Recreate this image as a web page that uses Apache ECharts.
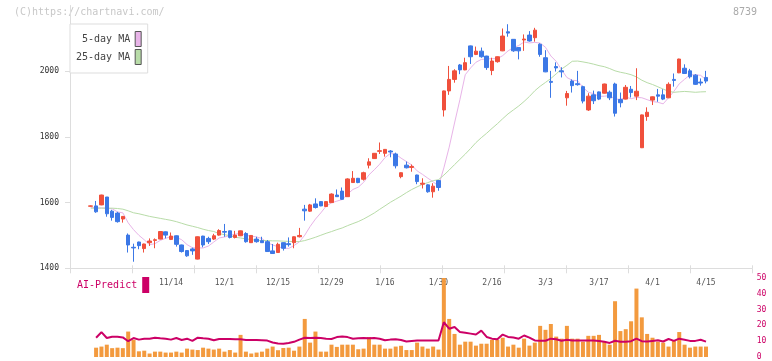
<!DOCTYPE html>
<html><head><meta charset="utf-8">
<script src="https://cdn.jsdelivr.net/npm/echarts@6/dist/echarts.min.js"></script>
<style>html,body{margin:0;padding:0;background:#fff}#c{width:772px;height:361px}</style>
</head><body><div id="c"></div>
<script>
const dates = ['10/23','10/24','10/27','10/28','10/29','10/30','10/31','11/4','11/5','11/6','11/7','11/10','11/11','11/12','11/13','11/14','11/17','11/18','11/19','11/20','11/21','11/25','11/26','11/27','11/28','12/1','12/2','12/3','12/4','12/5','12/8','12/9','12/10','12/11','12/12','12/15','12/16','12/17','12/18','12/19','12/22','12/23','12/24','12/25','12/26','12/29','12/30','1/5','1/6','1/7','1/8','1/9','1/13','1/14','1/15','1/16','1/19','1/20','1/21','1/22','1/23','1/26','1/27','1/28','1/29','1/30','2/2','2/3','2/4','2/5','2/6','2/9','2/10','2/12','2/13','2/16','2/17','2/18','2/19','2/20','2/24','2/25','2/26','2/27','3/2','3/3','3/4','3/5','3/6','3/9','3/10','3/11','3/12','3/13','3/16','3/17','3/18','3/19','3/23','3/24','3/25','3/26','3/27','3/30','3/31','4/1','4/2','4/3','4/6','4/7','4/8','4/9','4/10','4/13','4/14','4/15'];
const open = [1589,1590,1593,1617,1574,1568,1550,1501,1464,1480,1460,1478,1485,1489,1511,1488,1499,1471,1454,1459,1428,1498,1491,1489,1501,1512,1514,1494,1499,1506,1478,1489,1484,1481,1453,1448,1478,1475,1478,1496,1580,1574,1596,1603,1588,1600,1623,1635,1618,1661,1674,1671,1714,1734,1756,1750,1757,1748,1679,1714,1707,1684,1656,1654,1633,1667,1882,1940,1975,2019,2004,2077,2051,2061,2046,2002,2029,2062,2120,2097,2072,2095,2110,2102,2082,2041,1969,2014,2001,1919,1970,1962,1953,1882,1928,1937,1933,1936,1961,1914,1915,1945,1924,1767,1862,1912,1928,1928,1919,1975,1995,2009,2001,1988,1967,1981];
const close = [1590,1572,1623,1566,1555,1542,1558,1471,1462,1469,1474,1483,1487,1512,1501,1498,1473,1451,1438,1453,1496,1471,1481,1499,1515,1510,1494,1501,1514,1481,1500,1481,1478,1451,1445,1473,1461,1472,1496,1500,1575,1593,1585,1590,1603,1626,1618,1610,1672,1674,1661,1691,1724,1750,1758,1762,1754,1712,1691,1706,1710,1664,1659,1633,1650,1646,1940,1975,2001,2004,2026,2044,2061,2044,2011,2031,2044,2107,2116,2062,2062,2098,2092,2125,2051,1998,1966,2010,1998,1932,1956,1959,1909,1924,1910,1915,1961,1919,1872,1904,1951,1935,1939,1867,1875,1922,1924,1915,1960,1972,2037,1993,1983,1960,1964,1970];
const low = [1588,1569,1592,1557,1545,1539,1539,1448,1420,1458,1448,1468,1461,1488,1491,1486,1466,1448,1435,1441,1427,1464,1474,1486,1499,1496,1491,1491,1498,1478,1477,1478,1477,1450,1444,1447,1454,1466,1461,1494,1545,1572,1582,1589,1587,1599,1617,1609,1617,1660,1659,1667,1704,1733,1748,1740,1738,1704,1674,1704,1694,1656,1643,1630,1615,1636,1862,1928,1965,1991,2003,2022,2049,2041,2004,1988,2026,2061,2105,2059,2036,2062,2090,2090,2044,1997,1919,1999,1981,1895,1935,1956,1902,1879,1900,1912,1932,1912,1862,1890,1914,1920,1912,1766,1849,1897,1907,1912,1918,1953,1994,1992,1978,1958,1956,1963];
const high = [1591,1605,1624,1617,1578,1572,1559,1506,1475,1481,1475,1491,1491,1513,1512,1509,1500,1472,1455,1463,1497,1499,1496,1505,1519,1535,1515,1514,1515,1510,1501,1496,1496,1486,1474,1478,1479,1494,1497,1523,1593,1596,1613,1604,1604,1628,1640,1646,1674,1696,1675,1694,1735,1751,1783,1763,1760,1752,1692,1725,1716,1685,1674,1656,1659,1669,1941,2016,2006,2022,2041,2078,2075,2072,2047,2041,2045,2130,2143,2098,2073,2112,2122,2132,2085,2064,2001,2027,2012,1940,1975,2001,1956,1933,1941,1938,1962,1941,1965,1935,1958,1955,2009,1868,1890,1923,1946,1945,1966,1993,2038,2021,2007,1991,1978,2001];
const volume = [null,5.9,6.6,7.8,5.6,5.9,5.6,16.1,10.9,3.6,4.0,2.2,3.4,3.4,2.8,2.8,3.4,2.8,5.3,4.7,4.4,5.9,5.3,4.7,5.3,3.4,4.4,2.8,14.0,3.4,2.2,2.8,3.4,5.3,6.6,4.3,5.7,5.9,4.0,6.6,24.1,9.1,16.1,3.4,3.4,7.8,6.4,7.8,7.8,7.8,4.9,5.3,12.6,7.8,7.8,5.3,5.3,6.6,7.1,4.4,4.4,9.1,6.6,5.3,6.6,4.7,50,24.1,14.6,7.8,9.7,9.7,7.2,8.4,8.4,10.9,10.9,12.2,6.6,7.8,5.9,11.6,7.2,9.1,19.7,17.2,20.9,12.9,11.6,19.7,11.6,11.6,9.7,13.4,13.4,14.0,9.7,7.8,35.3,16.4,17.6,22.6,43.3,25.1,14.6,12.2,9.7,9.1,6.6,10.3,15.8,7.8,5.9,6.6,6.6,6.6];
const aiPredict = [null,12.2,15.7,12.0,12.8,12.8,12.4,10.0,12.0,11.0,11.6,11.6,12.2,11.8,11.6,11.0,12.0,10.8,11.6,10.2,12.2,11.8,11.6,10.6,11.4,11.4,11.4,11.2,11.2,10.8,10.8,10.8,10.6,10.4,9.2,8.6,8.4,8.8,9.6,11.0,12.2,12.0,12.2,12.0,11.6,11.4,12.6,13.0,12.6,11.6,11.8,12.0,11.8,12.0,11.6,10.6,11.0,11.2,10.8,9.8,10.2,10.5,10.5,10.5,10.5,10.5,22.0,17.9,19.0,15.8,15.4,14.8,14.2,16.7,12.7,11.6,11.2,14.2,12.7,12.3,11.6,13.6,12.3,10.5,10.3,10.3,11.6,11.2,10.3,10.9,10.5,10.5,10.5,10.5,10.5,10.1,9.6,8.9,10.3,9.7,9.7,10.0,11.6,10.0,9.8,10.2,10.6,9.8,11.4,10.2,11.6,10.9,10.2,10.2,10.9,9.7];
const ma5Head = [1585,1584,1584,1583];
const ma25Head = [1583,1583,1583,1583,1583,1582,1580,1575,1569,1566,1562,1558,1555,1552,1549,1546,1542,1537,1532,1528,1524,1519,1515,1512];
const priceTicks = [1400,1600,1800,2000];

function movingAvg(period, head) {
  return close.map((c, i) => {
    if (i < period - 1) return head[i];
    let s = 0; for (let k = i - period + 1; k <= i; k++) s += close[k];
    return +(s / period).toFixed(1);
  });
}
const ma5 = movingAvg(5, ma5Head);
const ma25 = movingAvg(25, ma25Head);
const ohlc = dates.map((d, i) => [open[i], close[i], low[i], high[i]]);

const FONT = '"DejaVu Sans Mono", monospace';
const chart = echarts.init(document.getElementById('c'));
chart.setOption({
  animation: false,
  backgroundColor: '#fff',
  graphic: [
    {type:'text', left:14, top:7, style:{text:'(C)https://chartnavi.com/', fill:'#c8c8c8', font:'10px ' + FONT}},
    {type:'text', right:15, top:7, style:{text:'8739', fill:'#aaa', font:'10px ' + FONT}}
  ],
  legend: [
    {data:[{name:'5-day MA', icon:'rect', itemStyle:{color:'#e8b4e8'}}, {name:'25-day MA', icon:'rect', itemStyle:{color:'#b8dca8'}}],
     left:70, top:24, orient:'vertical', align:'right', itemWidth:6, itemHeight:15, itemGap:2,
     padding:[7,6,8,6], borderColor:'#ddd', borderWidth:1, backgroundColor:'#fff', selectedMode:false,
     itemStyle:{borderColor:'#555', borderWidth:1},
     formatter: n => n.padStart(9, ' '),
     textStyle:{fontFamily:FONT, fontSize:10, color:'#444'}},
    {data:[{name:'AI-Predict', icon:'rect', itemStyle:{color:'#cc0066'}}],
     left:77, top:277, align:'right', itemWidth:7, itemHeight:16, padding:0, selectedMode:false,
     textStyle:{fontFamily:FONT, fontSize:10, color:'#cc0066'}}
  ],
  grid: [
    {left:70, top:5.5, width:682, height:262.8},
    {left:88.07, top:5.5, width:620.6, height:262.8},
    {left:88.07, top:278, width:620.6, height:80}
  ],
  xAxis: [
    {gridIndex:0, type:'value', min:0, max:11, interval:1, position:'bottom',
     axisLine:{lineStyle:{color:'#ddd'}}, axisTick:{length:5, lineStyle:{color:'#ddd'}},
     axisLabel:{show:false}, splitLine:{show:false}},
    {gridIndex:1, type:'category', data:dates, boundaryGap:true,
     axisLine:{show:false}, axisTick:{show:false}, splitLine:{show:false},
     axisLabel:{interval:(i) => i >= 15 && i % 10 === 5, margin:11, fontSize:8, color:'#555', fontFamily:FONT}},
    {gridIndex:2, type:'category', data:dates, boundaryGap:true, show:false},
    {gridIndex:0, type:'value', min:0, max:11, interval:1, position:'bottom',
     axisLine:{show:false}, axisTick:{inside:true, length:3, lineStyle:{color:'#ddd'}},
     axisLabel:{show:false}, splitLine:{show:false}}
  ],
  yAxis: [
    {gridIndex:0, type:'value', min:1400, max:2200, interval:200,
     axisLine:{show:true, lineStyle:{color:'#ddd'}},
     axisTick:{show:true, length:5, lineStyle:{color:'#ddd'}, customValues:priceTicks},
     axisLabel:{customValues:priceTicks, formatter: v => String(v), fontSize:8, color:'#333', margin:11, fontFamily:FONT},
     splitLine:{show:false}},
    {gridIndex:1, type:'value', min:1400, max:2200, show:false, splitLine:{show:false}},
    {gridIndex:2, type:'value', min:0, max:50, interval:10, position:'right',
     axisLine:{show:false}, axisTick:{show:false}, splitLine:{show:false},
     axisLabel:{margin:48, color:'#cc0066', fontSize:8, fontFamily:FONT, formatter: v => String(v)}}
  ],
  series: [
    {name:'5-day MA', type:'line', xAxisIndex:1, yAxisIndex:1, data:ma5, symbol:'none', z:2,
     lineStyle:{color:'#e8b4e8', width:1}, itemStyle:{color:'#e8b4e8'}},
    {name:'25-day MA', type:'line', xAxisIndex:1, yAxisIndex:1, data:ma25, symbol:'none', z:2,
     lineStyle:{color:'#b8dca8', width:1}, itemStyle:{color:'#b8dca8'}},
    {name:'price', type:'candlestick', xAxisIndex:1, yAxisIndex:1, data:ohlc, barWidth:4, z:3,
     itemStyle:{color:'#f0503c', color0:'#3c78e6', borderColor:'#f0503c', borderColor0:'#3c78e6', borderWidth:1}},
    {name:'volume', type:'bar', xAxisIndex:2, yAxisIndex:2, data:volume, barWidth:4,
     itemStyle:{color:'#f39a3e'}},
    {name:'AI-Predict', type:'line', xAxisIndex:2, yAxisIndex:2, data:aiPredict, symbol:'none',
     lineStyle:{color:'#cc0066', width:2}, itemStyle:{color:'#cc0066'}, z:3}
  ]
});
</script>
</body></html>
